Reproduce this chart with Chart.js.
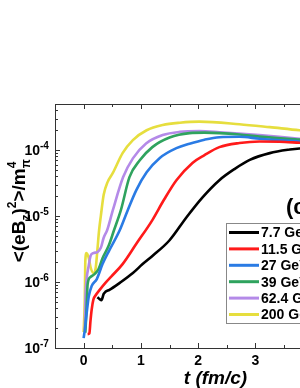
<!DOCTYPE html>
<html>
<head>
<meta charset="utf-8">
<script src="https://cdn.jsdelivr.net/npm/chart.js@4"></script>
<style>
  html, body { margin: 0; padding: 0; background: #fff; overflow: hidden; }
  #wrap { width: 300px; height: 388px; overflow: hidden; }
</style>
</head>
<body>
<div id="wrap"><canvas id="c" width="400" height="388"></canvas></div>
<script>
// series labels + colours
const labels = ['7.7 GeV', '11.5 GeV', '27 GeV', '39 GeV', '62.4 GeV', '200 GeV'];
const colors = ['#000000', '#ff1a1a', '#2a7be4', '#2fa35e', '#b48ae8', '#e6de3e'];

// t (fm/c) and <(eBz)^2>/m_pi^4
const t77 = [0.24, 0.28, 0.31, 0.35, 0.38, 0.45, 0.63, 0.86, 1.03, 1.20, 1.50, 1.80, 2.08, 2.37, 2.64, 2.90, 3.25, 3.60, 3.77, 4.38, 5.0];
const v77 = [5.9e-7, 5.5e-7, 5.3e-7, 6.6e-7, 7.1e-7, 7.6e-7, 9.7e-7, 1.37e-6, 1.87e-6, 2.48e-6, 4.3e-6, 9.7e-6, 1.94e-5, 3.5e-5, 5.2e-5, 7.1e-5, 9.0e-5, 1.02e-4, 1.06e-4, 1.11e-4, 1.11e-4];

const t115 = [0.07, 0.10, 0.12, 0.14, 0.17, 0.21, 0.28, 0.38, 0.49, 0.68, 0.92, 1.20, 1.40, 1.62, 1.90, 2.11, 2.37, 2.72, 3.07, 3.42, 3.77, 4.38, 5.0];
const v115 = [1.62e-7, 1.66e-7, 2.6e-7, 3.8e-7, 5.4e-7, 6.3e-7, 7.6e-7, 9.7e-7, 1.23e-6, 1.87e-6, 3.8e-6, 8.7e-6, 1.75e-5, 3.5e-5, 6.4e-5, 8.4e-5, 1.11e-4, 1.28e-4, 1.35e-4, 1.34e-4, 1.29e-4, 1.21e-4, 1.15e-4];

const t27 = [0.0, 0.02, 0.05, 0.09, 0.14, 0.23, 0.33, 0.45, 0.63, 0.77, 0.92, 1.10, 1.33, 1.62, 1.85, 2.11, 2.37, 2.72, 3.07, 3.77, 5.0];
const v27 = [1.41e-7, 1.87e-7, 3.2e-7, 6.1e-7, 8.7e-7, 1.11e-6, 1.87e-6, 3.05e-6, 6.1e-6, 1.23e-5, 2.48e-5, 4.6e-5, 7.6e-5, 1.07e-4, 1.25e-4, 1.44e-4, 1.57e-4, 1.59e-4, 1.49e-4, 1.35e-4, 1.15e-4];

const t39 = [0.03, 0.05, 0.07, 0.12, 0.19, 0.26, 0.33, 0.44, 0.53, 0.65, 0.80, 0.98, 1.20, 1.50, 1.85, 2.11, 2.37, 2.72, 3.07, 3.77, 5.0];
const v39 = [1.7e-7, 3.8e-7, 9.3e-7, 1.19e-6, 1.32e-6, 1.57e-6, 2.3e-6, 3.6e-6, 6.1e-6, 1.23e-5, 3.9e-5, 7.0e-5, 1.11e-4, 1.55e-4, 1.81e-4, 1.84e-4, 1.81e-4, 1.72e-4, 1.6e-4, 1.44e-4, 1.23e-4];

const t624 = [0.02, 0.03, 0.05, 0.09, 0.12, 0.17, 0.24, 0.30, 0.35, 0.41, 0.51, 0.69, 0.86, 1.09, 1.38, 1.68, 2.02, 2.37, 3.07, 3.77, 5.0];
const v624 = [1.87e-7, 5.4e-7, 1.07e-6, 1.8e-6, 2.48e-6, 2.75e-6, 2.85e-6, 3.3e-6, 4.7e-6, 6.1e-6, 1.23e-5, 3.9e-5, 7.5e-5, 1.26e-4, 1.69e-4, 1.89e-4, 1.94e-4, 1.87e-4, 1.69e-4, 1.49e-4, 1.25e-4];

const t200 = [0.0, 0.02, 0.03, 0.05, 0.09, 0.12, 0.17, 0.21, 0.24, 0.27, 0.30, 0.35, 0.42, 0.51, 0.68, 0.86, 1.10, 1.38, 1.68, 2.02, 2.72, 3.25, 3.77, 5.0];
const v200 = [1.75e-7, 5.4e-7, 2.15e-6, 2.75e-6, 2.3e-6, 1.69e-6, 1.37e-6, 1.62e-6, 3.05e-6, 6.1e-6, 1.0e-5, 2.1e-5, 3.3e-5, 4.5e-5, 9.0e-5, 1.42e-4, 2.0e-4, 2.4e-4, 2.6e-4, 2.7e-4, 2.47e-4, 2.23e-4, 2.0e-4, 1.69e-4];

const xTicks = [0, 1, 2, 3, 4, 5];
const yDecades = [-7, -6, -5, -4];

const series = [[t77, v77], [t115, v115], [t27, v27], [t39, v39], [t624, v624], [t200, v200]];

const BOLD = 'bold 14px "Liberation Sans", Arial, sans-serif';

// frame, inward ticks, tick labels, axis titles, legend box
const decor = {
  id: 'decor',
  afterDraw(chart) {
    const {ctx, chartArea: a, scales: {x, y}} = chart;
    ctx.save();
    ctx.strokeStyle = '#333';
    ctx.lineWidth = 1;
    ctx.strokeRect(a.left + 0.5, a.top + 0.5, a.right - a.left, a.bottom - a.top);

    ctx.beginPath();
    for (let v = -0.5; v <= 5.001; v += 0.5) {
      const px = Math.round(x.getPixelForValue(v)) + 0.5;
      const len = Number.isInteger(v) ? 5 : 3;
      ctx.moveTo(px, a.bottom); ctx.lineTo(px, a.bottom - len);
      ctx.moveTo(px, a.top); ctx.lineTo(px, a.top + len);
    }
    for (const d of yDecades) {
      for (let m = 1; m <= 9; m++) {
        const val = m * Math.pow(10, d);
        if (val > y.max * 1.0001) break;
        const py = Math.round(y.getPixelForValue(val)) + 0.5;
        const len = m === 1 ? 5 : 3;
        ctx.moveTo(a.left, py); ctx.lineTo(a.left + len, py);
        ctx.moveTo(a.right, py); ctx.lineTo(a.right - len, py);
      }
    }
    ctx.stroke();

    ctx.fillStyle = '#000';
    ctx.font = BOLD;
    ctx.textAlign = 'center';
    ctx.textBaseline = 'middle';
    xTicks.forEach(v => ctx.fillText(String(v), x.getPixelForValue(v), a.bottom + 13));

    yDecades.forEach(d => {
      const py = y.getPixelForValue(Math.pow(10, d));
      ctx.font = BOLD;
      ctx.textAlign = 'right';
      ctx.textBaseline = 'middle';
      ctx.fillText('10', 40, py + 1);
      ctx.font = 'bold 10px "Liberation Sans", Arial, sans-serif';
      ctx.textAlign = 'left';
      ctx.fillText(String(d), 40, py - 4);
    });

    ctx.font = 'bold italic 19px "Liberation Sans", Arial, sans-serif';
    ctx.textAlign = 'center';
    ctx.textBaseline = 'alphabetic';
    ctx.fillText('t (fm/c)', (a.left + a.right) / 2 + 3, 384);

    // y title, rotated, with sub/superscripts
    ctx.save();
    ctx.translate(25, 212);
    ctx.rotate(-Math.PI / 2);
    const big = 'bold 19px "Liberation Sans", Arial, sans-serif';
    const small = 'bold 12px "Liberation Sans", Arial, sans-serif';
    const parts = [
      [big, '<(eB', 0], [small, 'z', 5], [big, ')', 0], [small, '2', -9],
      [big, '>/m', 0], [small, 'π', 5, true], [small, '4', -9]
    ];
    let w = 0;
    parts.forEach(p => { ctx.font = p[0]; if (!p[3]) w += ctx.measureText(p[1]).width; });
    let cx = -w / 2;
    ctx.textAlign = 'left';
    parts.forEach(p => {
      ctx.font = p[0];
      ctx.fillText(p[1], cx, p[2]);
      if (!p[3]) cx += ctx.measureText(p[1]).width;
    });
    ctx.restore();

    // legend
    const lx = 226, ly = 223;
    ctx.strokeStyle = '#888';
    ctx.strokeRect(lx + 0.5, ly + 0.5, 120, 100);
    ctx.font = BOLD;
    ctx.textAlign = 'left';
    ctx.textBaseline = 'middle';
    chart.data.datasets.forEach((ds, i) => {
      const ry = ly + 9.5 + i * 16.4;
      ctx.strokeStyle = ds.borderColor;
      ctx.lineWidth = 3;
      ctx.beginPath(); ctx.moveTo(lx + 3, ry); ctx.lineTo(lx + 33, ry); ctx.stroke();
      ctx.fillStyle = '#000';
      ctx.fillText(ds.label, lx + 35, ry + 1);
    });

    ctx.font = 'bold 22px "Liberation Sans", Arial, sans-serif';
    ctx.fillText('(c)', 286, 208);
    ctx.restore();
  }
};

new Chart(document.getElementById('c'), {
  type: 'line',
  data: {
    datasets: series.map((s, i) => ({
      label: labels[i],
      data: s[0].map((t, k) => ({x: t, y: s[1][k]})),
      borderColor: colors[i],
      borderWidth: 2.6,
      pointRadius: 0,
      cubicInterpolationMode: 'monotone',
      fill: false
    }))
  },
  options: {
    responsive: false,
    animation: false,
    devicePixelRatio: 1,
    layout: { padding: { left: 55, top: 104, right: 30, bottom: 40 } },
    plugins: { legend: { display: false }, tooltip: { enabled: false } },
    scales: {
      x: { type: 'linear', min: -0.5, max: 5, display: false },
      y: { type: 'logarithmic', min: 1e-7, max: 5e-4, display: false }
    }
  },
  plugins: [decor]
});
</script>
</body>
</html>
